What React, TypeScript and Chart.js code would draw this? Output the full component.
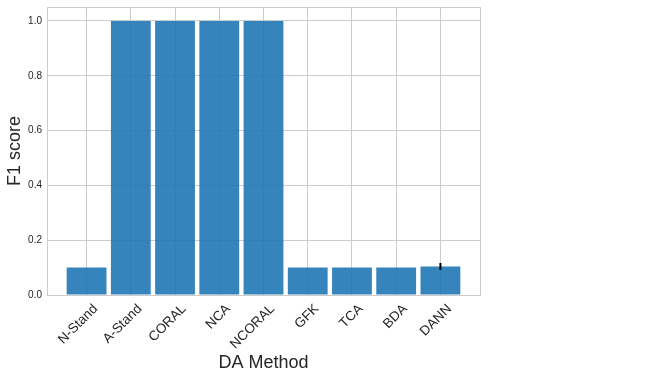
import React, { useEffect, useRef } from "react";
import { Chart, registerables } from "chart.js";

Chart.register(...registerables);

const methods = ["N-Stand", "A-Stand", "CORAL", "NCA", "NCORAL", "GFK", "TCA", "BDA", "DANN"];
const f1Scores = [0.1, 1.0, 1.0, 1.0, 1.0, 0.1, 0.1, 0.1, 0.104];
const f1Errors = [0, 0, 0, 0, 0, 0, 0, 0, 0.013];
const yTicks = [0, 0.2, 0.4, 0.6, 0.8, 1.0];

const FONT = "'Liberation Sans', Arial, sans-serif";

const errorBarPlugin = {
  id: "errorBars",
  afterDatasetsDraw(chart: any) {
    const { ctx, scales } = chart;
    const xs = scales.x;
    const ys = scales.y;
    ctx.save();
    ctx.strokeStyle = "#000000";
    ctx.lineWidth = 2;
    f1Scores.forEach((v, i) => {
      const e = f1Errors[i];
      if (!e) return;
      const px = xs.getPixelForValue(i);
      ctx.beginPath();
      ctx.moveTo(px, ys.getPixelForValue(v - e));
      ctx.lineTo(px, ys.getPixelForValue(v + e));
      ctx.stroke();
    });
    ctx.restore();
  },
};

export default function App() {
  const ref = useRef<HTMLCanvasElement | null>(null);

  useEffect(() => {
    document.body.style.margin = "0";
    const canvas = ref.current;
    if (!canvas) return;
    const chart = new Chart(canvas, {
      type: "bar",
      data: {
        datasets: [
          {
            data: f1Scores.map((v, i) => ({ x: i, y: v })),
            backgroundColor: "rgba(31,119,180,0.9)",
            borderWidth: 0,
            categoryPercentage: 1,
            barPercentage: 0.9,
          },
        ],
      },
      options: {
        responsive: false,
        animation: false,
        layout: { padding: { left: 0, right: 171, top: 7, bottom: 0 } },
        plugins: { legend: { display: false }, tooltip: { enabled: false } },
        scales: {
          x: {
            type: "linear",
            offset: false,
            min: -0.895,
            max: 8.895,
            afterBuildTicks(scale: any) {
              scale.ticks = methods.map((_, i) => ({ value: i }));
            },
            afterFit(scale: any) {
              scale.height = 84;
              scale.paddingLeft = 0;
              scale.paddingRight = 0;
            },
            ticks: {
              autoSkip: false,
              minRotation: 45,
              maxRotation: 45,
              padding: 6,
              labelOffset: 9,
              color: "#262626",
              font: { family: FONT, size: 13.5 },
              callback: (v: any) => methods[Math.round(Number(v))] ?? "",
            },
            grid: { color: "#cccccc", lineWidth: 1, drawTicks: false, offset: false },
            border: { display: true, color: "#cccccc", width: 1 },
            title: {
              display: true,
              text: "DA Method",
              color: "#262626",
              font: { family: FONT, size: 18 },
              padding: { top: 0, bottom: 5 },
            },
          },
          y: {
            min: 0,
            max: 1.051,
            afterBuildTicks(scale: any) {
              scale.ticks = yTicks.map((v) => ({ value: v }));
            },
            afterFit(scale: any) {
              scale.width = 47;
              scale.paddingTop = 0;
              scale.paddingBottom = 0;
            },
            ticks: {
              padding: 5,
              color: "#262626",
              font: { family: FONT, size: 10 },
              callback: (v: any) => Number(v).toFixed(1),
            },
            grid: { color: "#cccccc", lineWidth: 1, drawTicks: false },
            border: { display: true, color: "#cccccc", width: 1 },
            title: {
              display: true,
              text: "F1 score",
              color: "#262626",
              font: { family: FONT, size: 18 },
              padding: { top: 4, bottom: 0 },
            },
          },
          x2: {
            type: "linear",
            position: "top",
            display: true,
            min: 0,
            max: 1,
            ticks: { display: false },
            grid: { display: false, drawTicks: false },
            border: { display: true, color: "#cccccc", width: 1 },
            afterFit(scale: any) {
              scale.height = 0;
            },
          },
          y2: {
            type: "linear",
            position: "right",
            display: true,
            min: 0,
            max: 1,
            ticks: { display: false },
            grid: { display: false, drawTicks: false },
            border: { display: true, color: "#cccccc", width: 1 },
            afterFit(scale: any) {
              scale.width = 0;
            },
          },
        },
      },
      plugins: [errorBarPlugin],
    } as any);
    return () => chart.destroy();
  }, []);

  return (
    <div style={{ width: 651, height: 379, background: "#ffffff" }}>
      <canvas ref={ref} width={651} height={379} style={{ display: "block" }} />
    </div>
  );
}
